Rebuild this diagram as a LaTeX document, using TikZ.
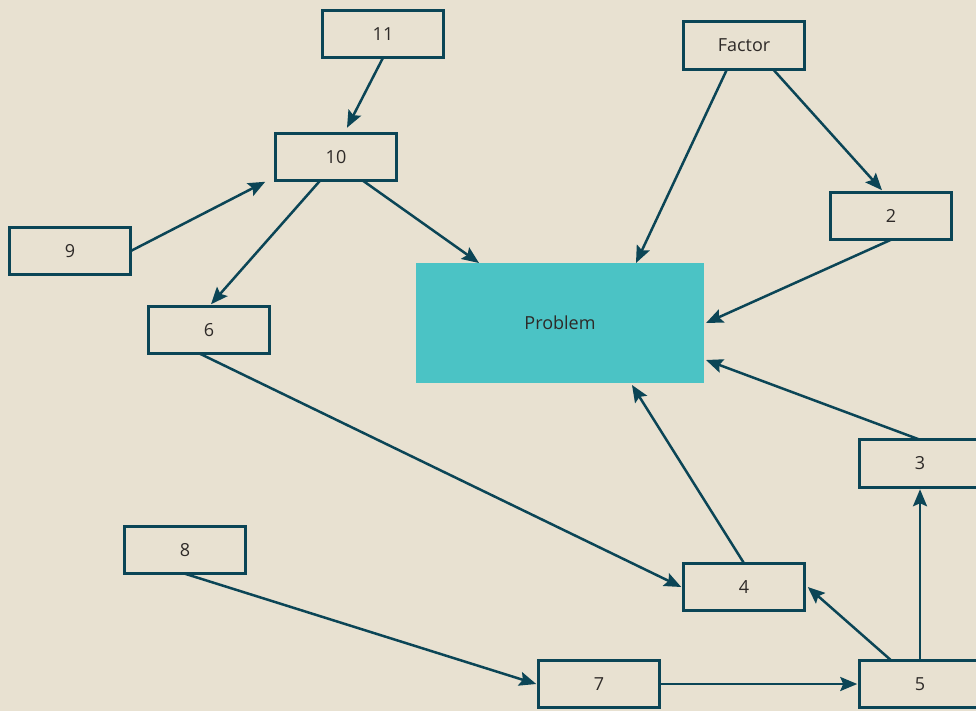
\documentclass[tikz,border=0pt]{standalone}
\usepackage{fontspec}
\setmainfont{Open Sans}
\usetikzlibrary{arrows.meta}
\definecolor{paper}{HTML}{E8E1D1}
\definecolor{ink}{HTML}{0B4556}
\definecolor{aqua}{HTML}{4BC3C5}
\definecolor{txt}{HTML}{2E2A28}
\begin{document}
\begin{tikzpicture}[x=1pt,y=-1pt,
  box/.style={draw=ink, line width=2.7pt, minimum width=121.5pt, minimum height=47.5pt,
    inner sep=0pt, outer sep=0pt, text=txt, font=\fontsize{18}{21}\selectfont},
  core/.style={fill=aqua, minimum width=288pt, minimum height=120pt, inner sep=0pt,
    outer sep=0pt, text=txt, font=\fontsize{18}{21}\selectfont},
  link/.style={draw=ink, line width=2.5pt,
    -{Stealth[length=17pt, width=14pt, inset=3pt]}}]
  % canvas
  \fill[paper] (0,0) rectangle (976,711);
  \useasboundingbox (0,0) rectangle (976,711);
  \clip (0,0) rectangle (976,711);

  % nodes
  \node[core] (P) at (560,323) {Problem};
  \node[box] (n11) at (383,34) {11};
  \node[box] (n10) at (336,157) {10};
  \node[box] (F) at (744,45.5) {Factor};
  \node[box] (n2) at (891,216) {2};
  \node[box] (n9) at (70,251) {9};
  \node[box] (n6) at (209,330) {6};
  \node[box] (n3) at (920,463.5) {3};
  \node[box] (n8) at (185,550) {8};
  \node[box] (n4) at (744,587) {4};
  \node[box] (n7) at (599,684) {7};
  \node[box] (n5) at (920,684) {5};

  % connectors
  \draw[link] (n11.south) -- ([xshift=-36pt,yshift=-70pt]n11.south);
  \draw[link] (n9.east) -- ([xshift=-10pt,yshift=-1pt]n10.south west);
  \draw[link] ([xshift=-16pt]n10.south) -- ([xshift=2pt,yshift=2pt]n6.north);
  \draw[link] ([xshift=27pt]n10.south) -- ([xshift=63pt]P.north west);
  \draw[link] ([xshift=-17pt]F.south) -- ([xshift=220pt]P.north west);
  \draw[link] ([xshift=29pt]F.south) -- ([xshift=-9pt,yshift=2pt]n2.north);
  \draw[link] (n2.south) -- ([xshift=2pt]P.east);
  \draw[link] (n3.north) -- ([xshift=2pt,yshift=23pt]P.south east);
  \draw[link] ([xshift=-9pt]n6.south) -- ([xshift=-2pt]n4.west);
  \draw[link] (n4.north) -- ([xshift=216pt,yshift=-2pt]P.south west);
  \draw[link] ([xshift=-29pt]n5.north) -- ([xshift=3pt]n4.east);
  \draw[link] (n5.north) -- ([yshift=-2pt]n3.south);
  \draw[link] (n7.east) -- ([xshift=-2pt]n5.west);
  \draw[link] (n8.south) -- ([xshift=-2pt]n7.west);
\end{tikzpicture}
\end{document}
